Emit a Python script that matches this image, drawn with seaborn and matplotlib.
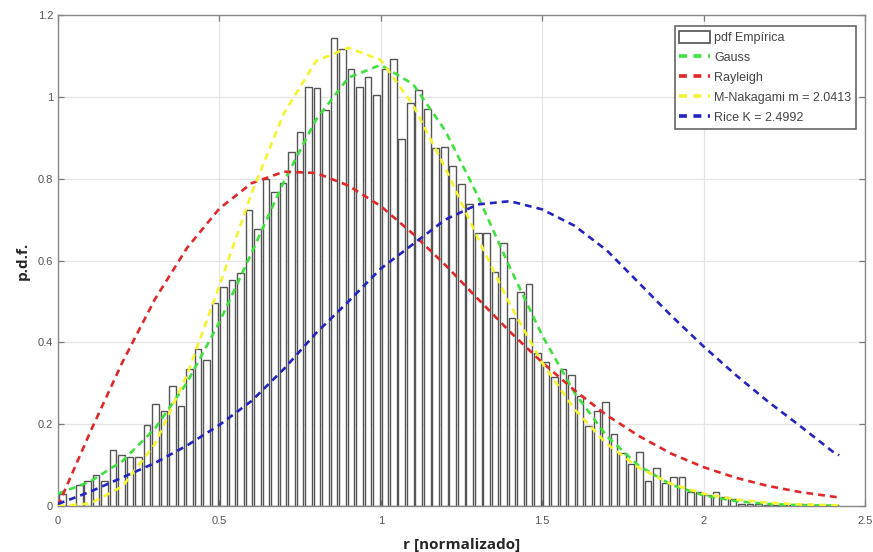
import numpy as np
import matplotlib
matplotlib.use("Agg")
import matplotlib.pyplot as plt
import seaborn as sns
from matplotlib.patches import Patch
from matplotlib.lines import Line2D

# ---------------- data ----------------
bin_width = 0.0263
pdf_empirica = [
    0.030, 0.000, 0.052, 0.061, 0.075, 0.061, 0.136, 0.125, 0.121, 0.121,
    0.199, 0.250, 0.232, 0.293, 0.245, 0.334, 0.383, 0.357, 0.496, 0.536,
    0.553, 0.569, 0.723, 0.677, 0.800, 0.767, 0.790, 0.865, 0.914, 1.025,
    1.021, 0.968, 1.145, 1.118, 1.069, 1.023, 1.049, 1.004, 1.069, 1.092,
    0.898, 0.986, 1.017, 0.971, 0.876, 0.878, 0.832, 0.786, 0.739, 0.667,
    0.667, 0.571, 0.643, 0.459, 0.522, 0.543, 0.375, 0.352, 0.316, 0.334,
    0.320, 0.268, 0.195, 0.232, 0.254, 0.177, 0.129, 0.103, 0.132, 0.062,
    0.092, 0.056, 0.070, 0.070, 0.034, 0.034, 0.026, 0.034, 0.022, 0.018,
    0.006, 0.004, 0.005, 0.003, 0.002, 0.003, 0.002, 0.004, 0.006, 0.003,
    0.002, 0.002,
]

r_curve = [0.0, 0.1, 0.2, 0.3, 0.4, 0.5, 0.6, 0.7, 0.8, 0.9, 1.0, 1.1, 1.2,
           1.3, 1.4, 1.5, 1.6, 1.7, 1.8, 1.9, 2.0, 2.1, 2.2, 2.3, 2.4, 2.42]
gauss = [0.030, 0.060, 0.110, 0.189, 0.302, 0.449, 0.619, 0.793, 0.945, 1.047,
         1.078, 1.031, 0.917, 0.759, 0.583, 0.417, 0.277, 0.171, 0.098, 0.052,
         0.026, 0.012, 0.005, 0.002, 0.001, 0.001]
rayleigh = [0.000, 0.181, 0.352, 0.505, 0.631, 0.727, 0.789, 0.817, 0.814, 0.783,
            0.733, 0.665, 0.589, 0.507, 0.426, 0.351, 0.283, 0.222, 0.171, 0.128,
            0.095, 0.069, 0.049, 0.034, 0.023, 0.021]
nakagami = [0.000, 0.006, 0.048, 0.151, 0.321, 0.538, 0.765, 0.960, 1.088, 1.120,
            1.090, 0.980, 0.826, 0.656, 0.493, 0.350, 0.237, 0.152, 0.093, 0.054,
            0.030, 0.016, 0.008, 0.004, 0.002, 0.002]
rice = [0.005, 0.035, 0.070, 0.105, 0.148, 0.198, 0.257, 0.335, 0.423, 0.500,
        0.580, 0.640, 0.700, 0.737, 0.745, 0.725, 0.685, 0.625, 0.545, 0.465,
        0.390, 0.320, 0.255, 0.195, 0.133, 0.124]

x_ticks = [0, 0.5, 1, 1.5, 2, 2.5]
x_tick_labels = ["0", "0.5", "1", "1.5", "2", "2.5"]
y_ticks = [0, 0.2, 0.4, 0.6, 0.8, 1.0, 1.2]
y_tick_labels = ["0", "0.2", "0.4", "0.6", "0.8", "1", "1.2"]
legend_labels = ["pdf Empírica", "Gauss", "Rayleigh",
                 "M-Nakagami m = 2.0413", "Rice K = 2.4992"]
x_label = "r [normalizado]"
y_label = "p.d.f."

# ---------------- style ----------------
sns.set_style("white")
plt.rcParams["font.family"] = ["Liberation Sans", "DejaVu Sans"]

colors = {"Gauss": "#3fe03f", "Rayleigh": "#e02828",
          "M-Nakagami m = 2.0413": "#f4f430", "Rice K = 2.4992": "#2424c0"}
dash = (0, (2.6, 1.9))

fig = plt.figure(figsize=(8.73, 5.52), dpi=100)
ax = fig.add_axes([0.0664, 0.0833, 0.9244, 0.8895])

n = len(pdf_empirica)
centers = (np.arange(n) + 0.5) * bin_width
edges = (np.arange(n + 1) * bin_width).tolist()

sns.histplot(x=centers, weights=np.asarray(pdf_empirica), bins=edges, shrink=0.78,
             color="white", edgecolor="#555555", linewidth=1.0, alpha=1.0,
             ax=ax, zorder=2)

curves = [("Gauss", gauss), ("Rayleigh", rayleigh),
          ("M-Nakagami m = 2.0413", nakagami), ("Rice K = 2.4992", rice)]
for name, vals in curves:
    sns.lineplot(x=r_curve, y=vals, color=colors[name], linestyle=dash,
                 linewidth=1.9, ax=ax, zorder=3)

ax.set_xlim(0, 2.5)
ax.set_ylim(0, 1.2)
ax.set_xticks(x_ticks)
ax.set_xticklabels(x_tick_labels)
ax.set_yticks(y_ticks)
ax.set_yticklabels(y_tick_labels)
ax.grid(True, color="#e4e4e4", linewidth=0.9, zorder=0)
ax.set_axisbelow(True)
ax.tick_params(direction="in", length=4, width=0.9, colors="#777777",
               labelcolor="#555555", labelsize=8, top=True, right=True,
               bottom=True, left=True)
ax.tick_params(axis="x", pad=7)
for s in ax.spines.values():
    s.set_color("#888888")
    s.set_linewidth(1.0)

ax.set_xlabel(x_label, fontsize=11, fontweight="bold",
              family=["Open Sans", "DejaVu Sans"], labelpad=9)
ax.set_ylabel(y_label, fontsize=11, fontweight="bold",
              family=["Open Sans", "DejaVu Sans"], labelpad=6)

handles = [Patch(facecolor="white", edgecolor="#5c5c5c", linewidth=1.3)]
for name, _ in curves:
    handles.append(Line2D([0], [0], color=colors[name], linestyle=(0, (2.2, 1.8)),
                          linewidth=2.6))
leg = ax.legend(handles, legend_labels, loc="upper right",
                bbox_to_anchor=(0.9885, 0.977), fontsize=9, frameon=True,
                fancybox=False, framealpha=1, edgecolor="#666666",
                handlelength=2.5, handleheight=1.1, handletextpad=0.3,
                borderpad=0.35, labelspacing=0.55, borderaxespad=0)
leg.get_frame().set_linewidth(1.2)
for t in leg.get_texts():
    t.set_color("#444444")

fig.savefig("out.png", dpi=100)
